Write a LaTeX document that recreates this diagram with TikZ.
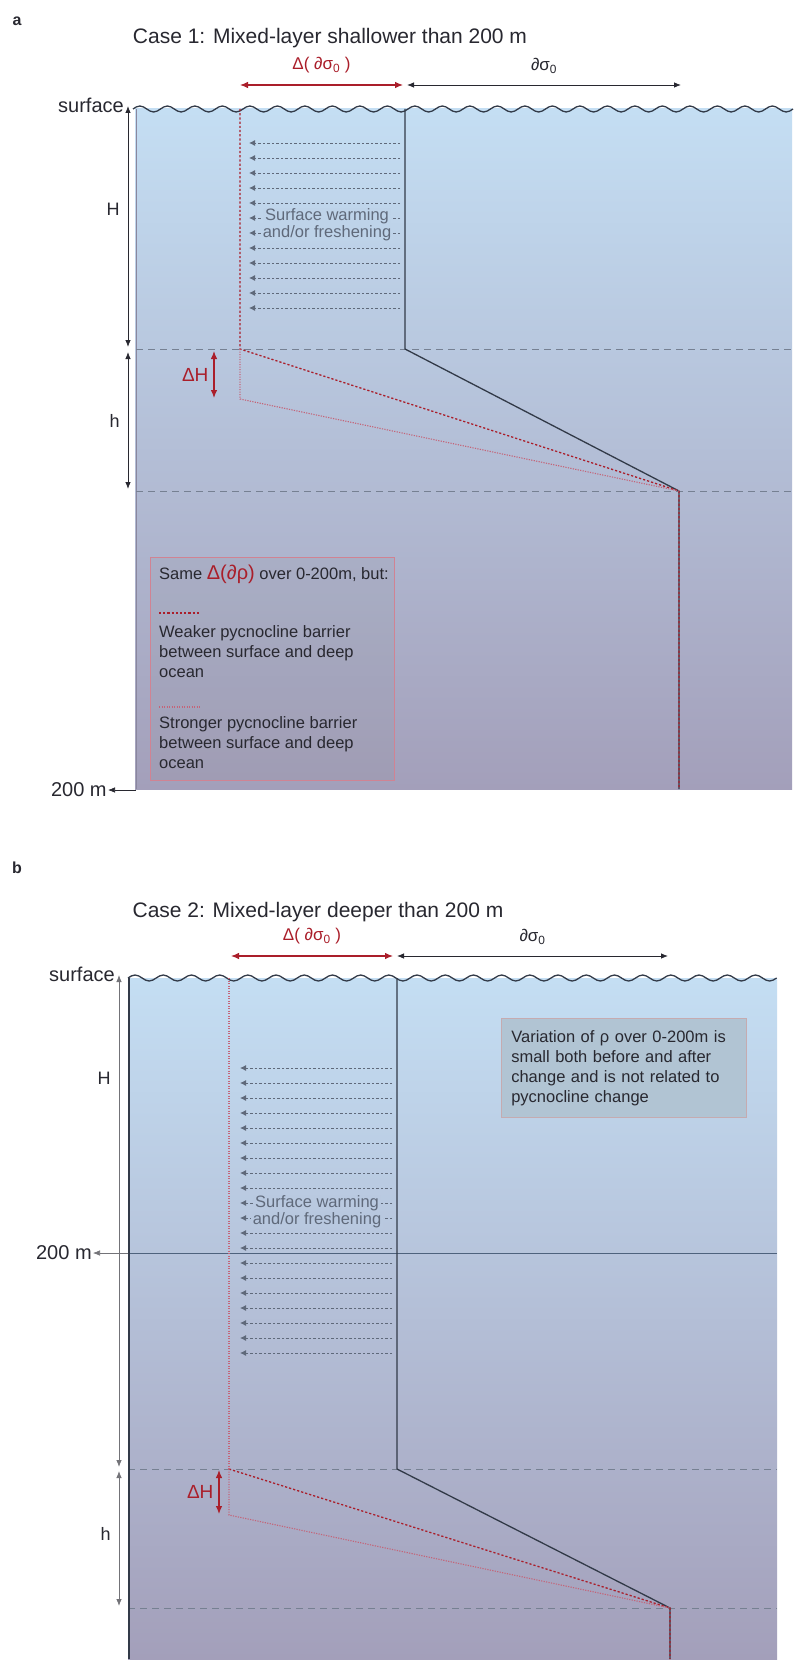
\documentclass[tikz,border=0pt]{standalone}
\usepackage{fontspec}
\setmainfont{Liberation Sans}
\usepackage{xcolor}
\usepackage{tikz}
\usetikzlibrary{arrows.meta,positioning,calc}

\definecolor{seatop}{RGB}{196,222,243}
\definecolor{seabot}{RGB}{163,159,186}
\definecolor{darkred}{RGB}{170,30,42}
\definecolor{softred}{RGB}{196,100,120}
\definecolor{profline}{RGB}{50,58,72}
\definecolor{hint}{RGB}{95,105,122}
\definecolor{guide}{RGB}{118,128,146}
\definecolor{ink}{RGB}{40,40,48}
\definecolor{depthline}{RGB}{78,98,125}

\begin{document}
\begin{tikzpicture}[x=1pt, y=-1pt,
    txt/.style={inner sep=0pt, text=ink, font=\fontsize{17}{20}\selectfont},
    big/.style={inner sep=0pt, text=ink, font=\fontsize{20}{22}\selectfont},
    small/.style={inner sep=0pt, text=ink, font=\fontsize{16.5}{20}\selectfont},
    title/.style={inner sep=0pt, text=ink, font=\fontsize{21}{24}\selectfont},
    guideline/.style={guide, line width=0.9pt, dash pattern=on 7pt off 5pt},
    dimarrow/.style={ink, line width=0.8pt, {Latex[length=7pt,width=5.5pt]}-{Latex[length=7pt,width=5.5pt]}},
    redarrow/.style={darkred, line width=1.1pt, {Latex[length=8pt,width=6.5pt]}-{Latex[length=8pt,width=6.5pt]}},
    profile/.style={profline, line width=1.3pt},
    weaker/.style={darkred, line width=1.3pt, dash pattern=on 2.2pt off 2pt},
    stronger/.style={softred, line width=1.1pt, dash pattern=on 1.2pt off 1.3pt},
    warmarrow/.style={hint, line width=0.9pt, dash pattern=on 2.5pt off 2pt, -{Latex[length=6pt,width=6pt]}},
    wave/.style={profline, line width=1.3pt},
    ]
    \fill[white] (0,0) rectangle (800,1672);
    \useasboundingbox (0,0) rectangle (800,1672);

    % ---------------- panel a ----------------
    \node[txt, font=\bfseries\fontsize{16}{18}\selectfont] (pa) at (17,21) {a};
    \node[title] (ta) at (330,38) {Case 1: Mixed-layer shallower than 200 m};

    \shade[top color=seatop, bottom color=seabot] (135,109) rectangle (792,789);
    \draw[seabot!85!black, line width=0.8pt] (136,109) -- (136,789);
    \draw[wave] (133,109) foreach \k in {0,...,23} {
        sin ++(6.875,-3) cos ++(6.875,3) sin ++(6.875,3) cos ++(6.875,-3)};

    \draw[guideline] (136,349) -- (792,349);
    \draw[guideline] (136,491) -- (792,491);

    % density change arrows
    \coordinate (aRl) at (240,85);
    \coordinate (aRr) at (403,85);
    \coordinate (aBr) at (681,85);
    \draw[redarrow] (aRl) -- (aRr) node[midway, above=11pt, text=darkred, inner sep=0pt, font=\fontsize{17}{20}\selectfont] {Δ( ∂σ\textsubscript{0} )};
    \draw[dimarrow] ($(aRr)+(4,0)$) -- (aBr) node[midway, above=11pt, txt] {∂σ\textsubscript{0}};

    % depth brackets
    \coordinate (aHt) at (128,106);
    \coordinate (aHb) at (128,347);
    \coordinate (aht) at (128,352);
    \coordinate (ahb) at (128,489);
    \draw[dimarrow] (aHt) -- (aHb) node[pos=0.43, left=8pt, txt, font=\fontsize{18}{20}\selectfont] {H};
    \draw[dimarrow] (aht) -- (ahb) node[pos=0.5, left=8pt, txt, font=\fontsize{18}{20}\selectfont] {h};
    \node[big, anchor=south east] at (124,113) {surface};

    % profiles
    \coordinate (aS) at (405,109);
    \coordinate (aK) at (405,349);
    \coordinate (aD) at (679,491);
    \coordinate (aB) at (679,789);
    \coordinate (rS) at (240,109);
    \coordinate (rK) at (240,349);
    \coordinate (rL) at (240,399);
    \draw[profile] (aS) -- (aK) -- (aD) -- (aB);
    \draw[weaker] (rS) -- (rK) -- (aD) -- (aB);
    \draw[stronger] (rK) -- (rL) -- (aD);

    \coordinate (aDHt) at (214,351);
    \coordinate (aDHb) at (214,398);
    \draw[redarrow] (aDHt) -- (aDHb) node[midway, left=5pt, inner sep=0pt, text=darkred, font=\fontsize{19}{20}\selectfont] {ΔH};

    \foreach \i in {0,...,11}
        \draw[warmarrow] (400,143+15*\i) -- (249,143+15*\i);
    \node[small, text=hint, fill=seatop!83!seabot, inner xsep=2pt] (wa1) at (327,216) {Surface warming};
    \node[small, text=hint, fill=seatop!82!seabot, inner xsep=2pt] (wa2) at (327,233) {and/or freshening};

    % legend
    \draw[softred!80, line width=0.6pt, fill=gray, fill opacity=0.1] (150,557) rectangle (394,780);
    \node[small, anchor=base west] (lg0) at (159,579) {Same \textcolor{darkred}{\fontsize{20}{20}\selectfont Δ(∂ρ)} over 0-200m, but:};
    \draw[weaker] (159,613) -- (200,613);
    \node[small, anchor=north west, align=left] (lg1) at (159,625) {Weaker pycnocline barrier\\between surface and deep\\ocean};
    \draw[stronger, line width=1.2pt] (159,707) -- (200,707);
    \node[small, anchor=north west, align=left] (lg2) at (159,716) {Stronger pycnocline barrier\\between surface and deep\\ocean};

    \coordinate (aZ) at (136,790);
    \draw[ink, line width=0.7pt, -{Latex[length=7pt,width=5.5pt]}] (aZ) -- (108,790) node[left=1pt, big] {200 m};

    % ---------------- panel b ----------------
    \node[txt, font=\bfseries\fontsize{16}{18}\selectfont] (pb) at (17,868) {b};
    \node[title] (tb) at (318,912) {Case 2: Mixed-layer deeper than 200 m};

    \shade[top color=seatop, bottom color=seabot] (128,978) rectangle (777,1659);
    \draw[wave] (128,978) foreach \k in {0,...,22} {
        sin ++(7.05,-3) cos ++(7.05,3) sin ++(7.05,3) cos ++(7.05,-3)};

    \draw[guideline] (128,1469) -- (777,1469);
    \draw[guideline] (128,1608) -- (777,1608);
    \draw[depthline, line width=0.9pt] (128,1253) -- (777,1253);
    \draw[profline, line width=1.3pt] (129,978) -- (129,1659);

    \coordinate (bRl) at (231,956);
    \coordinate (bRr) at (393,956);
    \coordinate (bBr) at (668,956);
    \draw[redarrow] (bRl) -- (bRr) node[midway, above=11pt, text=darkred, inner sep=0pt, font=\fontsize{17}{20}\selectfont] {Δ( ∂σ\textsubscript{0} )};
    \draw[dimarrow] ($(bRr)+(4,0)$) -- (bBr) node[midway, above=11pt, txt] {∂σ\textsubscript{0}};

    \coordinate (bHt) at (119,975);
    \coordinate (bHb) at (119,1467);
    \coordinate (bht) at (119,1471);
    \coordinate (bhb) at (119,1606);
    \draw[dimarrow, ink!65] (bHt) -- (bHb) node[pos=0.21, left=8pt, txt, font=\fontsize{18}{20}\selectfont] {H};
    \draw[dimarrow, ink!65] (bht) -- (bhb) node[pos=0.47, left=8pt, txt, font=\fontsize{18}{20}\selectfont] {h};
    \node[big, anchor=south east] at (115,982) {surface};

    \coordinate (bZ) at (128,1253);
    \draw[ink!65, line width=0.6pt, -{Latex[length=7pt,width=5.5pt]}] (bZ) -- (93,1253) node[left=1pt, big] {200 m};

    \coordinate (bS) at (397,978);
    \coordinate (bK) at (397,1469);
    \coordinate (bD) at (670,1608);
    \coordinate (bB) at (670,1659);
    \coordinate (qS) at (229,978);
    \coordinate (qK) at (229,1469);
    \coordinate (qL) at (229,1515);
    \draw[profile] (bS) -- (bK) -- (bD) -- (bB);
    \draw[weaker] (qK) -- (bD) -- (bB);
    \draw[stronger, line width=1.3pt] (qS) -- (qK);
    \draw[stronger] (qK) -- (qL) -- (bD);

    \coordinate (bDHt) at (219,1470);
    \coordinate (bDHb) at (219,1514);
    \draw[redarrow] (bDHt) -- (bDHb) node[midway, left=5pt, inner sep=0pt, text=darkred, font=\fontsize{19}{20}\selectfont] {ΔH};

    \foreach \i in {0,...,19}
        \draw[warmarrow] (392,1068+15*\i) -- (240,1068+15*\i);
    \node[small, text=hint, fill=seatop!66!seabot, inner xsep=2pt] (wb1) at (317,1203) {Surface warming};
    \node[small, text=hint, fill=seatop!65!seabot, inner xsep=2pt] (wb2) at (317,1220) {and/or freshening};

    \node[small, draw=softred!45!gray!60, line width=0.6pt, fill=seatop!72!gray, anchor=north west,
          align=left, text width=225pt, inner xsep=10pt, minimum height=99pt] (note) at (501,1018)
          {Variation of ρ over 0-200m is\\small both before and after\\change and is not related to\\pycnocline change};
\end{tikzpicture}
\end{document}
